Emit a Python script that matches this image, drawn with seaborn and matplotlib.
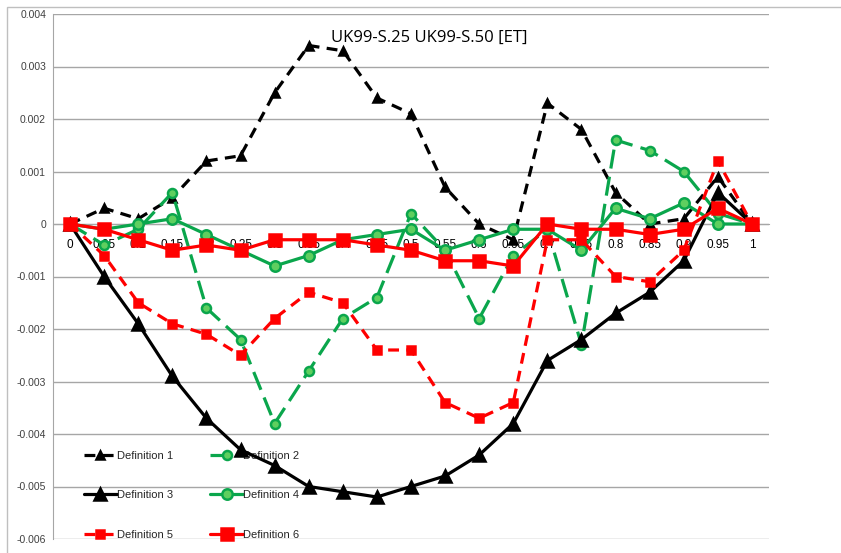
import matplotlib
matplotlib.use("Agg")
import matplotlib.pyplot as plt
import matplotlib.patches as mpatches
import seaborn as sns
import pandas as pd

# data
x_labels = ['0', '0.05', '0.1', '0.15', '0.2', '0.25', '0.3', '0.35', '0.4', '0.45', '0.5',
            '0.55', '0.6', '0.65', '0.7', '0.75', '0.8', '0.85', '0.9', '0.95', '1']
def1 = [0, 0.0003, 0.0001, 0.0005, 0.0012, 0.0013, 0.0025, 0.0034, 0.0033, 0.0024, 0.0021,
        0.0007, 0.0000, -0.0003, 0.0023, 0.0018, 0.0006, 0.0000, 0.0001, 0.0009, 0]
def2 = [0, -0.0004, -0.0001, 0.0006, -0.0016, -0.0022, -0.0038, -0.0028, -0.0018, -0.0014, 0.0002,
        -0.0005, -0.0018, -0.0006, -0.0001, -0.0023, 0.0016, 0.0014, 0.0010, 0.0002, 0]
def3 = [0, -0.0010, -0.0019, -0.0029, -0.0037, -0.0043, -0.0046, -0.0050, -0.0051, -0.0052, -0.0050,
        -0.0048, -0.0044, -0.0038, -0.0026, -0.0022, -0.0017, -0.0013, -0.0007, 0.0006, 0]
def4 = [0, -0.0001, 0.0000, 0.0001, -0.0002, -0.0005, -0.0008, -0.0006, -0.0003, -0.0002, -0.0001,
        -0.0005, -0.0003, -0.0001, -0.0001, -0.0005, 0.0003, 0.0001, 0.0004, 0.0000, 0]
def5 = [0, -0.0006, -0.0015, -0.0019, -0.0021, -0.0025, -0.0018, -0.0013, -0.0015, -0.0024, -0.0024,
        -0.0034, -0.0037, -0.0034, -0.0003, -0.0003, -0.0010, -0.0011, -0.0005, 0.0012, 0]
def6 = [0, -0.0001, -0.0003, -0.0005, -0.0004, -0.0005, -0.0003, -0.0003, -0.0003, -0.0004, -0.0005,
        -0.0007, -0.0007, -0.0008, 0.0000, -0.0001, -0.0001, -0.0002, -0.0001, 0.0003, 0]
y_ticks = [-0.006, -0.005, -0.004, -0.003, -0.002, -0.001, 0, 0.001, 0.002, 0.003, 0.004]
y_tick_labels = ['-0.006', '-0.005', '-0.004', '-0.003', '-0.002', '-0.001', '0',
                 '0.001', '0.002', '0.003', '0.004']
title = 'UK99-S.25 UK99-S.50 [ET]'

sns.set_style("white")
plt.rcParams['font.family'] = ['Liberation Sans', 'DejaVu Sans']

GREEN = '#0aa64c'
GREEN_FILL = '#5fcf5f'
RED = '#ff0000'

series = {
    'Definition 1': dict(y=def1, color='black', ls=(0, (3.4, 2.3)), marker='^', ms=6,
                         mfc='black', mec='black'),
    'Definition 2': dict(y=def2, color=GREEN, ls=(0, (6.0, 2.6)), marker='o', ms=6.5,
                         mfc=GREEN_FILL, mec=GREEN),
    'Definition 3': dict(y=def3, color='black', ls='-', marker='^', ms=8,
                         mfc='black', mec='black'),
    'Definition 4': dict(y=def4, color=GREEN, ls='-', marker='o', ms=7.5,
                         mfc=GREEN_FILL, mec=GREEN),
    'Definition 5': dict(y=def5, color=RED, ls=(0, (3.4, 2.3)), marker='s', ms=5.5,
                         mfc=RED, mec=RED),
    'Definition 6': dict(y=def6, color=RED, ls='-', marker='s', ms=8.5,
                         mfc=RED, mec=RED),
}

fig = plt.figure(figsize=(8.41, 5.53), dpi=100)
ax = fig.add_axes([53 / 841, 1 - 539 / 553, (769 - 53) / 841, (539 - 14) / 553])

lines = {}
for name, s in series.items():
    df = pd.DataFrame({'pos': range(len(x_labels)), 'val': s['y']})
    sns.lineplot(data=df, x='pos', y='val', ax=ax, color=s['color'], linestyle=s['ls'],
                 linewidth=2.3, marker=s['marker'], markersize=s['ms'],
                 markerfacecolor=s['mfc'], markeredgecolor=s['mec'], markeredgewidth=1.8,
                 label=name, zorder=3)
    lines[name] = ax.lines[-1]

ax.set_xlabel('')
ax.set_ylabel('')
ax.set_xlim(-0.5, len(x_labels) - 0.5)
ax.set_ylim(-0.006, 0.004)

# horizontal gridlines
for yt in y_ticks:
    ax.axhline(yt, color='#a6a6a6', lw=1.0, zorder=1)

ax.set_yticks(y_ticks)
ax.set_yticklabels(y_tick_labels, fontsize=7.5, color='#404040')
ax.tick_params(axis='y', direction='out', length=3, width=1, color='#a6a6a6', pad=2)

# category axis crossing at zero
ax.spines['bottom'].set_position(('data', 0))
ax.spines['bottom'].set_color('#a6a6a6')
ax.spines['left'].set_color('#a6a6a6')
ax.spines['top'].set_visible(False)
ax.spines['right'].set_visible(False)
ax.set_xticks(range(len(x_labels)))
ax.set_xticklabels(x_labels, fontsize=8.5, color='black')
ax.tick_params(axis='x', length=0, pad=11)
ax.set_xticks([i - 0.5 for i in range(len(x_labels) + 1)], minor=True)
ax.tick_params(axis='x', which='minor', direction='in', length=4, width=1, color='#a6a6a6')

ax.text(0.525, 0.955, title, transform=ax.transAxes, ha='center', va='center',
        fontsize=12, family=['Open Sans', 'DejaVu Sans'], color='black')

order = ['Definition 1', 'Definition 3', 'Definition 5',
         'Definition 2', 'Definition 4', 'Definition 6']
leg = ax.legend([lines[n] for n in order], order, ncol=2, frameon=False,
                loc='lower left', bbox_to_anchor=(0.029, -0.02),
                fontsize=8, handlelength=3.0, handletextpad=0.0,
                labelspacing=2.65, columnspacing=3.3)
leg.set_zorder(2)

# outer chart border
fig.patches.append(mpatches.Rectangle((7 / 841, -0.1), 1.2, 1 - 7 / 553 + 0.1,
                                      transform=fig.transFigure, fill=False,
                                      edgecolor='#bfbfbf', lw=1.0))

fig.savefig('out.png', dpi=100)
